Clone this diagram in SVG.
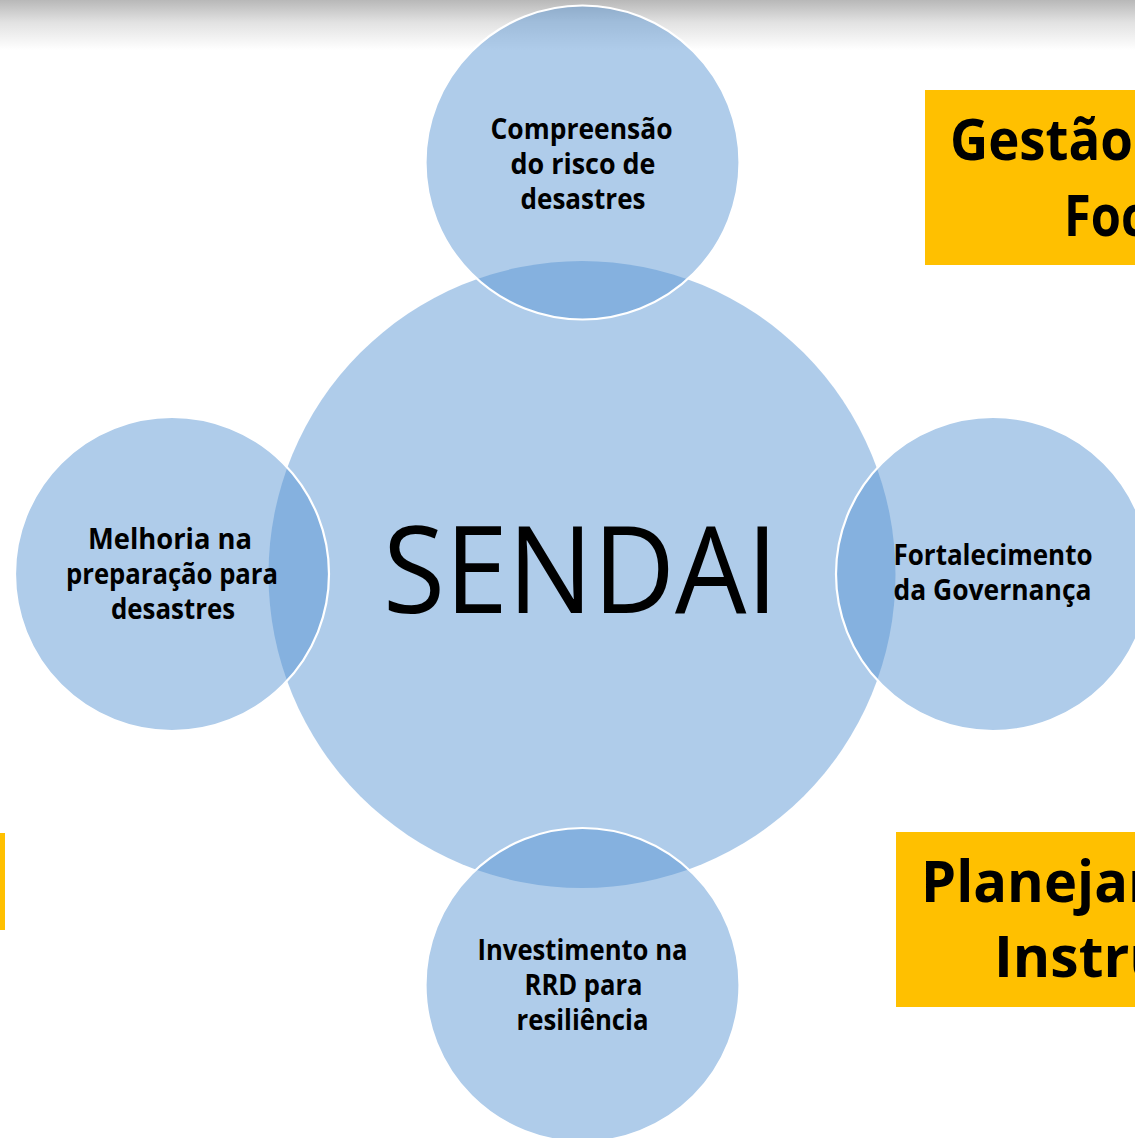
<svg xmlns="http://www.w3.org/2000/svg" width="1135" height="1138" viewBox="0 0 1135 1138">
  <defs>
    <linearGradient id="topShade" x1="0" y1="0" x2="0" y2="1">
      <stop offset="0" stop-color="#B8B8B8"/>
      <stop offset="0.45" stop-color="#E2E2E2"/>
      <stop offset="1" stop-color="#FFFFFF"/>
    </linearGradient>
    <style>
      .bubble { fill: #5794D3; fill-opacity: 0.475; }
      .small { stroke: #FFFFFF; stroke-width: 2.2; }
      .label { font-family: "Open Sans", "Noto Sans", sans-serif; font-weight: 700; font-size: 28.5px; fill: #000000; text-anchor: middle; }
      .big { font-family: "Open Sans", "Noto Sans", sans-serif; font-weight: 400; font-size: 121px; fill: #000000; }
      .box { fill: #FFC000; }
      .boxtext { font-family: "Open Sans", "Noto Sans", sans-serif; font-weight: 700; font-size: 57px; fill: #000000; }
    </style>
  </defs>

  <rect x="0" y="0" width="1135" height="1138" fill="#FFFFFF"/>
  <rect x="0" y="0" width="1135" height="50" fill="url(#topShade)"/>

  <g id="box-gestao">
    <rect class="box" x="925" y="90" width="210" height="175"/>
    <text class="boxtext" x="950" y="160" textLength="183" lengthAdjust="spacingAndGlyphs">Gestão</text>
    <text class="boxtext" x="1064" y="236" textLength="82" lengthAdjust="spacingAndGlyphs">Foc</text>
  </g>
  <g id="box-planejamento">
    <rect class="box" x="896" y="832" width="239" height="175"/>
    <text class="boxtext" x="921" y="902" textLength="262" lengthAdjust="spacingAndGlyphs">Planejam</text>
    <text class="boxtext" x="994" y="977">Instru</text>
  </g>
  <g id="box-left">
    <rect class="box" x="0" y="833" width="5" height="97"/>
  </g>

  <g id="sendai">
    <circle class="bubble" cx="582" cy="574.5" r="313.5"/>
  </g>
  <g id="compreensao">
    <circle class="bubble small" cx="582.5" cy="162.5" r="157"/>
  </g>
  <g id="melhoria">
    <circle class="bubble small" cx="172" cy="574" r="157"/>
  </g>
  <g id="fortalecimento">
    <circle class="bubble small" cx="993" cy="574" r="157"/>
  </g>
  <g id="investimento">
    <circle class="bubble small" cx="582.5" cy="985" r="157"/>
  </g>

  <g id="connectors"></g>

  <g id="labels">
    <text class="big" x="383" y="613" textLength="395" lengthAdjust="spacingAndGlyphs">SENDAI</text>

    <text class="label" x="581.5" y="139" textLength="182" lengthAdjust="spacingAndGlyphs">Compreensão</text>
    <text class="label" x="583" y="174" textLength="145" lengthAdjust="spacingAndGlyphs">do risco de</text>
    <text class="label" x="583" y="209" textLength="125" lengthAdjust="spacingAndGlyphs">desastres</text>

    <text class="label" x="170" y="549" textLength="164" lengthAdjust="spacingAndGlyphs">Melhoria na</text>
    <text class="label" x="172" y="584" textLength="212" lengthAdjust="spacingAndGlyphs">preparação para</text>
    <text class="label" x="173" y="619" textLength="124" lengthAdjust="spacingAndGlyphs">desastres</text>

    <text class="label" x="993" y="565" textLength="199" lengthAdjust="spacingAndGlyphs">Fortalecimento</text>
    <text class="label" x="992.5" y="600" textLength="198" lengthAdjust="spacingAndGlyphs">da Governança</text>

    <text class="label" x="582.5" y="960" textLength="210" lengthAdjust="spacingAndGlyphs">Investimento na</text>
    <text class="label" x="583.5" y="995" textLength="118" lengthAdjust="spacingAndGlyphs">RRD para</text>
    <text class="label" x="582.5" y="1030" textLength="132" lengthAdjust="spacingAndGlyphs">resiliência</text>
  </g>
</svg>
